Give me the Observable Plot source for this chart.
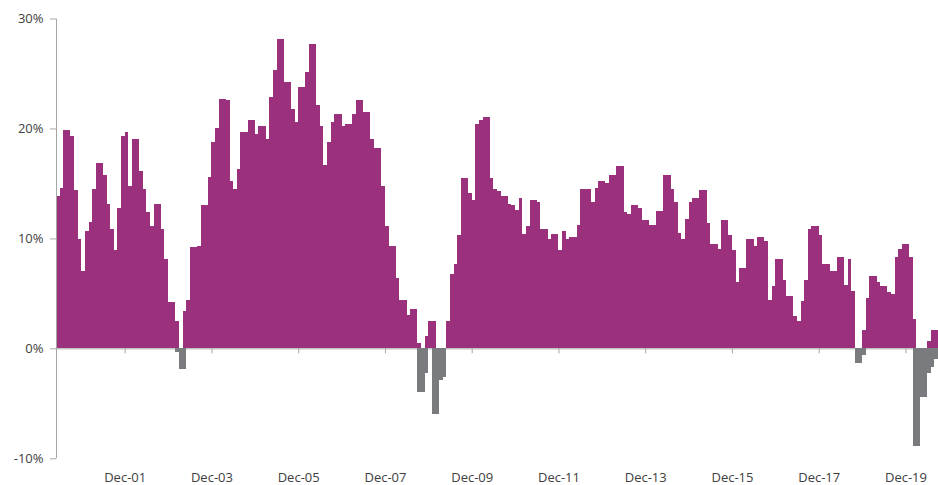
<!DOCTYPE html>
<html><head><meta charset="utf-8">
<script src="https://cdn.jsdelivr.net/npm/d3@7"></script>
<script src="https://cdn.jsdelivr.net/npm/@observablehq/plot@0.6"></script>
<style>
html,body{margin:0;padding:0;background:#fff;}
#chart svg{display:block;}
</style></head><body><div id="chart"></div>
<script>
// first bar = Jun-2000, monthly to Sep-2020
const startYear = 2000, startMonth = 6;

// purple (positive) series, % per month
const purple = [
  13.9, 14.6, 19.9, 19.9, 19.3, 14.4, 9.9, 7.0, 10.7, 11.5,
  14.5, 16.9, 16.9, 15.8, 13.1, 10.9, 8.9, 12.8, 19.3, 19.7,
  14.8, 19.0, 19.0, 16.1, 14.5, 12.4, 11.1, 13.1, 13.1, 10.9,
  8.1, 4.25, 4.25, 2.5, 0, 3.4, 4.4, 9.2, 9.2, 9.35,
  13.0, 13.0, 15.6, 18.8, 20.0, 22.7, 22.7, 22.6, 15.2, 14.5,
  16.3, 19.7, 19.7, 20.8, 20.8, 19.5, 20.2, 20.2, 19.0, 22.9,
  25.3, 28.1, 28.1, 24.2, 24.2, 21.8, 20.6, 23.8, 23.8, 25.1,
  27.7, 27.7, 22.1, 20.2, 16.7, 18.8, 20.6, 21.3, 21.3, 20.2,
  20.4, 20.4, 21.3, 22.6, 22.6, 21.5, 21.5, 19.0, 18.2, 18.2,
  14.8, 11.1, 9.35, 9.35, 6.4, 4.4, 4.4, 3.0, 3.6, 3.6,
  0.45, 0, 1.1, 2.5, 2.5, 0, 0, 0, 2.5, 6.8,
  7.7, 10.3, 15.5, 15.5, 14.1, 13.5, 20.4, 20.8, 21.0, 21.0,
  15.5, 14.5, 14.3, 13.9, 13.9, 13.1, 13.0, 12.6, 13.7, 10.4,
  11.1, 13.5, 13.5, 13.3, 10.9, 10.9, 9.9, 10.4, 10.4, 8.9,
  10.7, 9.9, 10.1, 10.1, 11.2, 14.5, 14.5, 14.5, 13.3, 14.6,
  15.2, 15.2, 15.0, 15.8, 15.8, 16.6, 16.6, 12.4, 12.2, 13.0,
  13.0, 12.8, 11.7, 11.7, 11.2, 11.2, 12.5, 12.5, 15.8, 15.8,
  14.5, 13.3, 10.5, 9.9, 11.8, 13.3, 13.7, 13.7, 14.4, 14.4,
  11.4, 9.5, 9.5, 9.0, 11.7, 11.7, 10.3, 8.9, 6.0, 7.3,
  7.3, 9.9, 9.9, 9.35, 10.1, 10.1, 9.8, 4.4, 5.7, 8.1,
  8.1, 6.2, 4.8, 4.8, 2.9, 2.5, 4.3, 6.2, 10.9, 11.1,
  11.1, 10.3, 7.7, 7.7, 7.0, 7.0, 8.35, 8.35, 5.8, 8.1,
  5.2, 0, 0, 1.7, 4.6, 6.6, 6.6, 6.0, 5.7, 5.7,
  5.1, 4.9, 8.35, 9.0, 9.5, 9.5, 8.35, 2.7, 0, 0,
  0, 0.64, 1.64, 1.64
];

// grey (negative) series, % per month
const gray = [
  0, 0, 0, 0, 0, 0, 0, 0, 0, 0,
  0, 0, 0, 0, 0, 0, 0, 0, 0, 0,
  0, 0, 0, 0, 0, 0, 0, 0, 0, 0,
  0, 0, 0, -0.3, -1.9, -1.9, 0, 0, 0, 0,
  0, 0, 0, 0, 0, 0, 0, 0, 0, 0,
  0, 0, 0, 0, 0, 0, 0, 0, 0, 0,
  0, 0, 0, 0, 0, 0, 0, 0, 0, 0,
  0, 0, 0, 0, 0, 0, 0, 0, 0, 0,
  0, 0, 0, 0, 0, 0, 0, 0, 0, 0,
  0, 0, 0, 0, 0, 0, 0, 0, 0, 0,
  -4.0, -4.0, -2.2, 0, -6.0, -6.0, -2.85, -2.6, 0, 0,
  0, 0, 0, 0, 0, 0, 0, 0, 0, 0,
  0, 0, 0, 0, 0, 0, 0, 0, 0, 0,
  0, 0, 0, 0, 0, 0, 0, 0, 0, 0,
  0, 0, 0, 0, 0, 0, 0, 0, 0, 0,
  0, 0, 0, 0, 0, 0, 0, 0, 0, 0,
  0, 0, 0, 0, 0, 0, 0, 0, 0, 0,
  0, 0, 0, 0, 0, 0, 0, 0, 0, 0,
  0, 0, 0, 0, 0, 0, 0, 0, 0, 0,
  0, 0, 0, 0, 0, 0, 0, 0, 0, 0,
  0, 0, 0, 0, 0, 0, 0, 0, 0, 0,
  0, 0, 0, 0, 0, 0, 0, 0, 0, 0,
  0, -1.3, -1.3, -0.64, 0, 0, 0, 0, 0, 0,
  0, 0, 0, 0, 0, 0, 0, -8.85, -8.85, -4.46,
  -4.46, -2.28, -1.7, -1.0
];

const tickLabels = ["Dec-01","Dec-03","Dec-05","Dec-07","Dec-09","Dec-11","Dec-13","Dec-15","Dec-17","Dec-19"];
const yTicks = [-10, 0, 10, 20, 30];

const bars = purple.map((v, i) => ({i, v})).filter(d => d.v !== 0);
const negs = gray.map((v, i) => ({i, v})).filter(d => d.v !== 0);
// tick sits at the end of each December bar
const tickPos = tickLabels.map(l => (2000 + (+l.slice(4)) - startYear) * 12 + (12 - startMonth) + 1);

const axisGray = "#a6a6a6";
const chart = Plot.plot({
  width: 938, height: 485,
  marginLeft: 56, marginRight: 0, marginTop: 18.5, marginBottom: 26.7,
  x: {domain: [0, purple.length], axis: null},
  y: {domain: [-10, 30], axis: null},
  style: {fontFamily: "'Open Sans', 'Liberation Sans', sans-serif", fontSize: "13px", color: "#404040", background: "#fff"},
  marks: [
    Plot.ruleY([0], {stroke: axisGray, strokeWidth: 1}),
    Plot.rectY(bars, {x1: "i", x2: d => d.i + 1, y: "v", fill: "#9b307c", shapeRendering: "crispEdges"}),
    Plot.rectY(negs, {x1: "i", x2: d => d.i + 1, y: "v", fill: "#7a7b7f", shapeRendering: "crispEdges"}),
    Plot.ruleX(tickPos, {x: d => d, y1: 0, y2: -0.45, stroke: axisGray}),
    Plot.ruleX([0], {y1: -10, y2: 30, stroke: axisGray}),
    Plot.axisY({ticks: yTicks, tickFormat: d => d + "%", tickSize: 6, tickPadding: 7, stroke: axisGray, fill: "#404040", label: null}),
    Plot.axisX({anchor: "bottom", ticks: tickPos, tickFormat: d => tickLabels[tickPos.indexOf(d)], tickSize: 0, tickPadding: 14, fill: "#404040", label: null})
  ]
});
document.getElementById("chart").appendChild(chart);
</script>
</body></html>
